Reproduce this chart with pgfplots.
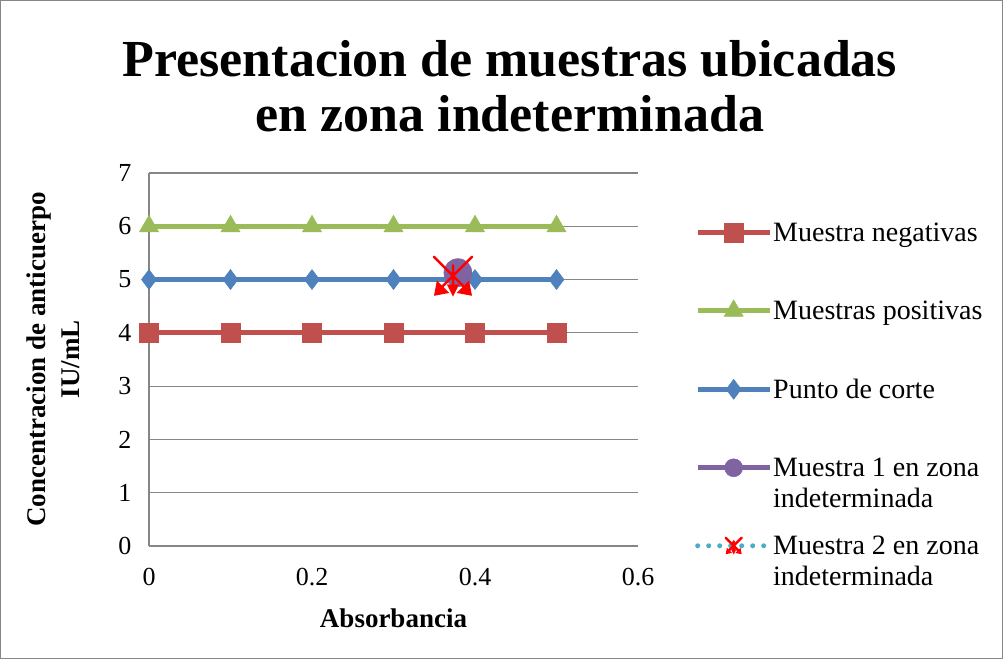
\documentclass[border=0pt]{standalone}
\usepackage{fontspec}
\setmainfont{Liberation Serif}
\usepackage{pgfplots}
\pgfplotsset{compat=1.18}
\definecolor{cred}{HTML}{C0504D}
\definecolor{cgreen}{HTML}{9BBB59}
\definecolor{cblue}{HTML}{4F81BD}
\definecolor{cpurple}{HTML}{8064A2}
\definecolor{ccyan}{HTML}{4BACC6}
\definecolor{cgrid}{HTML}{868686}
\pgfdeclareplotmark{mtwo}{%
  \pgfsetlinewidth{2.5bp}%
  \pgfsetroundcap
  \pgfpathmoveto{\pgfpoint{-1\pgfplotmarksize}{1\pgfplotmarksize}}%
  \pgfpathlineto{\pgfpoint{0.6\pgfplotmarksize}{-0.6\pgfplotmarksize}}%
  \pgfpathmoveto{\pgfpoint{1\pgfplotmarksize}{1\pgfplotmarksize}}%
  \pgfpathlineto{\pgfpoint{-0.6\pgfplotmarksize}{-0.6\pgfplotmarksize}}%
  \pgfpathmoveto{\pgfpoint{0pt}{0.55\pgfplotmarksize}}%
  \pgfpathlineto{\pgfpoint{0pt}{-0.7\pgfplotmarksize}}%
  \pgfusepathqstroke
  \pgfpathmoveto{\pgfpoint{-1\pgfplotmarksize}{-1.05\pgfplotmarksize}}%
  \pgfpathlineto{\pgfpoint{-0.2\pgfplotmarksize}{-0.9\pgfplotmarksize}}%
  \pgfpathlineto{\pgfpoint{-0.85\pgfplotmarksize}{-0.25\pgfplotmarksize}}%
  \pgfpathclose
  \pgfpathmoveto{\pgfpoint{1\pgfplotmarksize}{-1.05\pgfplotmarksize}}%
  \pgfpathlineto{\pgfpoint{0.2\pgfplotmarksize}{-0.9\pgfplotmarksize}}%
  \pgfpathlineto{\pgfpoint{0.85\pgfplotmarksize}{-0.25\pgfplotmarksize}}%
  \pgfpathclose
  \pgfpathmoveto{\pgfpoint{0pt}{-1.1\pgfplotmarksize}}%
  \pgfpathlineto{\pgfpoint{-0.32\pgfplotmarksize}{-0.45\pgfplotmarksize}}%
  \pgfpathlineto{\pgfpoint{0.32\pgfplotmarksize}{-0.45\pgfplotmarksize}}%
  \pgfpathclose
  \pgfusepathqfill
}
\begin{document}
\begin{tikzpicture}[x=1bp,y=1bp]
\useasboundingbox (0,0) rectangle (1003,659);
\draw[cgrid, line width=1bp] (0.5,0.5) rectangle (1002.5,658.5);
\begin{axis}[
  at={(149bp,113bp)}, anchor=south west,
  scale only axis, width=489bp, height=373bp,
  xmin=0, xmax=0.6, ymin=0, ymax=7,
  xtick={0,0.2,0.4,0.6}, ytick={0,1,...,7},
  xticklabels={0,0.2,0.4,0.6},
  axis x line*=bottom, axis y line*=left,
  axis line style={cgrid, line width=1.2bp, -},
  ymajorgrids, grid style={cgrid, line width=1.2bp},
  major tick length=0pt,
  tick label style={font=\fontsize{26bp}{30bp}\selectfont},
  /pgf/number format/assume math mode=true,
  yticklabel style={xshift=-14bp},
  xticklabel style={yshift=-19bp},
  title={Presentacion de muestras ubicadas\\en zona indeterminada},
  title style={font=\fontsize{52bp}{55bp}\selectfont\bfseries, align=center,
    at={(axis description cs:0.738,1.216)}, anchor=center},
  xlabel={Absorbancia},
  xlabel style={font=\fontsize{27bp}{30bp}\selectfont\bfseries,
    at={(axis description cs:0.5,-0.193)}, anchor=center},
  ylabel={Concentracion de anticuerpo\\IU/mL},
  ylabel style={font=\fontsize{27bp}{34bp}\selectfont\bfseries, align=center,
    at={(axis description cs:-0.196,0.5)}, anchor=center},
  legend style={draw=none, fill=none, at={(axis description cs:1.1104,0.875)},
    anchor=north west, row sep=25bp,
    nodes={align=left, inner sep=1bp, font=\fontsize{28bp}{31bp}\selectfont}},
  legend cell align=left,
  legend image code/.code={\draw[yshift=16bp,mark repeat=2,mark phase=2] plot coordinates {(0bp,0bp)(36bp,0bp)(72bp,0bp)};},
]
\addplot[cred, line width=5bp, mark=square*, mark size=9.5bp, mark options={solid, line width=0.5bp}]
  coordinates {(0,4)(0.1,4)(0.2,4)(0.3,4)(0.4,4)(0.5,4)};
\addlegendentry{Muestra negativas\\\mbox{}}
\addplot[cgreen, line width=5bp, mark=triangle*, mark size=11bp, mark options={line width=0.5bp}]
  coordinates {(0,6)(0.1,6)(0.2,6)(0.3,6)(0.4,6)(0.5,6)};
\addlegendentry{Muestras positivas\\\mbox{}}
\addplot[cblue, line width=5bp, mark=diamond*, mark size=10bp, mark options={line width=0.5bp}]
  coordinates {(0,5)(0.1,5)(0.2,5)(0.3,5)(0.4,5)(0.5,5)};
\addlegendentry{Punto de corte\\\mbox{}}
\addplot[cpurple, line width=5bp, mark=*, mark size=14bp, mark options={line width=0.5bp},
  legend image post style={mark size=9bp}]
  coordinates {(0.379,5.13)};
\addlegendentry{Muestra 1 en zona\\indeterminada}
\addplot[ccyan, line width=5bp, dash pattern=on 0bp off 11bp, line cap=round,
  mark=mtwo, mark size=19bp, mark options={red, solid},
  legend image post style={mark size=8bp}]
  coordinates {(0.373,5.07)};
\addlegendentry{Muestra 2 en zona\\indeterminada}
\end{axis}
\end{tikzpicture}
\end{document}
